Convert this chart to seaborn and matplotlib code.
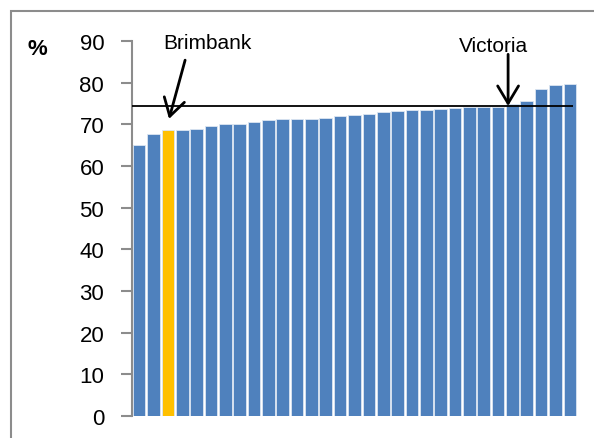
import numpy as np
import pandas as pd
import matplotlib
matplotlib.use('Agg')
import matplotlib.pyplot as plt
import matplotlib.patches as patches
import seaborn as sns

# LGA values (%), sorted ascending; Brimbank highlighted
values = [65.0, 67.6, 68.6, 68.6, 69.0, 69.5, 70.0, 70.0, 70.6, 71.1, 71.2,
          71.4, 71.4, 71.6, 72.1, 72.2, 72.6, 72.9, 73.1, 73.5, 73.5, 73.7,
          74.0, 74.1, 74.1, 74.2, 74.9, 75.7, 78.4, 79.4, 79.7]
brimbank_idx = 2
victoria = 74.4
yticks = [0, 10, 20, 30, 40, 50, 60, 70, 80, 90]

df = pd.DataFrame({'lga': range(len(values)), 'pct': values})
df['group'] = ['Brimbank' if i == brimbank_idx else 'Other' for i in df['lga']]

sns.set_style('white')
plt.rcParams['font.family'] = ['Liberation Sans', 'DejaVu Sans']
plt.rcParams['text.color'] = 'black'

fig = plt.figure(figsize=(5.94, 4.39), dpi=100)
ax = fig.add_axes([132 / 594, 22 / 439, 445 / 594, 375 / 439])

sns.barplot(data=df, x='lga', y='pct', hue='group',
            palette={'Brimbank': '#FFC000', 'Other': '#4F81BD'},
            width=0.88, dodge=False, legend=False, saturation=1,
            edgecolor='#DCE6F2', linewidth=0.6, ax=ax)

# Victoria average line
ax.hlines(victoria, -0.5, len(values) - 0.8, color='black', lw=1.3, zorder=5)

ax.set_xlim(-0.5, len(values) - 0.5)
ax.set_ylim(0, 90)
ax.set_yticks(yticks)
ax.set_xticks([])
ax.set_xlabel('')
ax.set_ylabel('')
ax.tick_params(axis='y', labelsize=16, length=8, width=1.5, color='#8C8C8C',
               labelcolor='black', pad=12, left=True)
for s in ['top', 'right', 'bottom']:
    ax.spines[s].set_visible(False)
ax.spines['left'].set_color('#8C8C8C')
ax.spines['left'].set_linewidth(1.5)

ax.text(-0.212, 0.979, '%', transform=ax.transAxes, fontsize=16,
        fontweight='bold', ha='center', va='center')

arrow = dict(arrowstyle='->, head_length=0.5, head_width=0.3', color='black',
             lw=2, mutation_scale=25, shrinkA=0, shrinkB=0)
ax.text(4.76, 88.3, 'Brimbank', fontsize=15, ha='center', va='baseline')
ax.annotate('', xy=(2.08, 71.3), xytext=(3.2, 85.4), arrowprops=arrow)
ax.text(24.66, 87.7, 'Victoria', fontsize=15, ha='center', va='baseline')
ax.annotate('', xy=(25.7, victoria), xytext=(25.7, 86.8), arrowprops=arrow)

# outer chart border
fig.patches.append(patches.Rectangle((11 / 594, -0.1), 1.2, (439 - 12) / 439 + 0.1,
                                     transform=fig.transFigure, fill=False,
                                     edgecolor='#8C8C8C', lw=1.5))

fig.savefig('out.png', dpi=100)
